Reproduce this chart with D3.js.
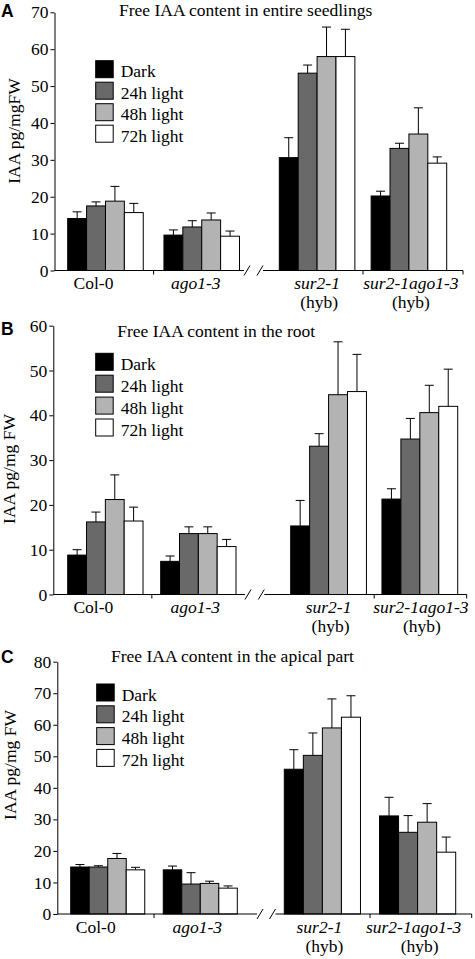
<!DOCTYPE html>
<html><head><meta charset="utf-8">
<script src="https://cdn.jsdelivr.net/npm/d3@7"></script>
<style>
body{margin:0;background:#fff}
svg{display:block}
text{font-family:"Liberation Serif","Times New Roman",serif;fill:#000}
</style>
</head><body>
<svg id="chart" width="475" height="959"></svg>
<script>
// ---------- data ----------
const groups = ["Col-0", "ago1-3", "sur2-1", "sur2-1ago1-3"];
const hybrid = [false, false, true, true];
const series = ["Dark", "24h light", "48h light", "72h light"];
const seriesColors = ["#000000", "#696969", "#b3b3b3", "#ffffff"];
const panelLetters = ["A", "B", "C"];
const titles = ["Free IAA content in entire seedlings", "Free IAA content in the root", "Free IAA content in the apical part"];
const yLabels = ["IAA pg/mgFW", "IAA pg/mg FW", "IAA pg/mg FW"];
const yMaxes = [70, 60, 80];
const yTickStep = 10;

// means: rows = groups, columns = series
const seedlingsMean = [[14.1, 17.5, 18.8, 15.7], [9.6, 11.8, 13.7, 9.3], [30.6, 53.5, 58.0, 58.0], [20.2, 33.1, 37.0, 29.1]];
const seedlingsErr  = [[1.8, 1.1, 4.0, 2.5], [1.4, 1.7, 1.9, 1.4], [5.4, 2.2, 8.0, 7.4], [1.3, 1.4, 7.1, 1.7]];
const rootMean = [[8.8, 16.2, 21.2, 16.4], [7.4, 13.6, 13.6, 10.7], [15.3, 33.1, 44.6, 45.3], [21.3, 34.7, 40.6, 42.0]];
const rootErr  = [[1.2, 2.2, 5.5, 3.1], [1.2, 1.5, 1.5, 1.6], [5.7, 2.8, 11.8, 8.3], [2.3, 4.6, 6.1, 8.3]];
const apicalMean = [[14.9, 14.9, 17.6, 14.0], [14.0, 9.5, 9.7, 8.2], [45.9, 50.3, 59.0, 62.4], [31.1, 25.9, 29.1, 19.6]];
const apicalErr  = [[0.8, 0.4, 1.6, 0.8], [1.2, 3.6, 0.7, 0.7], [6.2, 7.1, 9.2, 6.8], [5.9, 5.3, 5.9, 4.8]];

const panelMeans = [seedlingsMean, rootMean, apicalMean];
const panelErrs = [seedlingsErr, rootErr, apicalErr];

// ---------- layout ----------
const layouts = [
  {axisX: 54.5, yTop: 12.3, y0: 270.5, left: [67.7, 239.5], right: [279.3, 446.7], pi: [0.215, 0.177],
   brk: 244, brkGap: 13, rightEnd: 463, legX: 95.7, legY: 60.7, legStep: 21.5,
   titleX: 119, titleY: 15.5, letterY: 17.3, ylabX: 20, ylabY: 131, labShift: [-12, -6, 0, 2]},
  {axisX: 53.3, yTop: 325.7, y0: 594.5, left: [67.7, 236], right: [290.7, 457.7], pi: [0.19, 0.17],
   brk: 245, brkGap: 13.3, rightEnd: 466.7, legX: 95.7, legY: 353.3, legStep: 21.9,
   titleX: 117.3, titleY: 336.7, letterY: 335, ylabX: 14.5, ylabY: 469, labShift: [-12, -3, 0, 1]},
  {axisX: 57.3, yTop: 661.7, y0: 914, left: [70.7, 237.3], right: [284.3, 455.7], pi: [0.2, 0.2],
   brk: 257, brkGap: 12.5, rightEnd: 471.7, legX: 96.7, legY: 684, legStep: 21.8,
   titleX: 111, titleY: 662, letterY: 662.5, ylabX: 15.5, ylabY: 765, labShift: [-12, -3, -3, -4]}
];

const FS = 17.5;
const svg = d3.select("#chart");

layouts.forEach((L, p) => {
  const g = svg.append("g");
  const means = panelMeans[p], errs = panelErrs[p];

  const y = d3.scaleLinear().domain([0, yMaxes[p]]).range([L.y0, L.yTop]);

  // y axis
  const yAxis = d3.axisLeft(y)
    .tickValues(d3.range(0, yMaxes[p] + 1, yTickStep))
    .tickSize(4).tickSizeOuter(0).tickPadding(2)
    .tickFormat(d3.format("d"));
  const ya = g.append("g").attr("transform", `translate(${L.axisX},0)`).call(yAxis);
  ya.selectAll("text").style("font-family", '"Liberation Serif",serif').style("font-size", FS + "px").attr("fill", "#000");
  ya.selectAll("line,path").attr("stroke", "#000").attr("stroke-width", 1);

  // x scales (two segments around axis break)
  const xL = d3.scaleBand().domain(groups.slice(0, 2)).range(L.left).paddingInner(L.pi[0]).paddingOuter(0);
  const xR = d3.scaleBand().domain(groups.slice(2)).range(L.right).paddingInner(L.pi[1]).paddingOuter(0);
  const gx = (grp) => groups.indexOf(grp) < 2 ? xL(grp) : xR(grp);
  const bw = (grp) => groups.indexOf(grp) < 2 ? xL.bandwidth() : xR.bandwidth();

  // bars
  groups.forEach((grp, gi) => {
    const xs = d3.scaleBand().domain(series).range([gx(grp), gx(grp) + bw(grp)]);
    series.forEach((s, si) => {
      const v = means[gi][si], e = errs[gi][si];
      const cx = xs(s) + xs.bandwidth() / 2;
      // error bar (upper only)
      g.append("line").attr("x1", cx).attr("x2", cx).attr("y1", y(v)).attr("y2", y(v + e))
        .attr("stroke", "#000").attr("stroke-width", 1);
      g.append("line").attr("x1", cx - 4.5).attr("x2", cx + 4.5).attr("y1", y(v + e)).attr("y2", y(v + e))
        .attr("stroke", "#000").attr("stroke-width", 1);
      g.append("rect").attr("x", xs(s)).attr("y", y(v)).attr("width", xs.bandwidth()).attr("height", y(0) - y(v))
        .attr("fill", seriesColors[si]).attr("stroke", "#000").attr("stroke-width", 1);
    });
  });

  // x axis with break
  const ay = y(0);
  const line = (x1, y1, x2, y2) => g.append("line").attr("x1", x1).attr("y1", y1).attr("x2", x2).attr("y2", y2)
    .attr("stroke", "#000").attr("stroke-width", 1);
  line(L.axisX, ay, L.brk, ay);
  line(L.brk, ay + 5, L.brk + 6, ay - 5);
  line(L.brk + L.brkGap, ay + 5, L.brk + L.brkGap + 6, ay - 5);
  line(L.brk + L.brkGap + 6, ay, L.rightEnd, ay);
  // group boundary ticks
  const tL = (xL(groups[0]) + xL.bandwidth() + xL(groups[1])) / 2;
  const tR = (xR(groups[2]) + xR.bandwidth() + xR(groups[3])) / 2;
  [tL, tR, L.rightEnd].forEach(t => line(t, ay, t, ay + 4));

  // x labels
  groups.forEach((grp, gi) => {
    const cx = gx(grp) + bw(grp) / 2 + L.labShift[gi];
    g.append("text").attr("x", cx).attr("y", ay + 18.5).attr("text-anchor", "middle")
      .style("font-size", FS + "px").style("font-style", gi === 0 ? "normal" : "italic").text(grp);
    if (hybrid[gi]) {
      g.append("text").attr("x", gx(grp) + bw(grp) / 2 + 2).attr("y", ay + 37.5).attr("text-anchor", "middle")
        .style("font-size", FS + "px").text("(hyb)");
    }
  });

  // legend
  series.forEach((s, si) => {
    const ly = L.legY + si * L.legStep;
    g.append("rect").attr("x", L.legX).attr("y", ly).attr("width", 17.5).attr("height", 17)
      .attr("fill", seriesColors[si]).attr("stroke", "#000").attr("stroke-width", 1);
    g.append("text").attr("x", L.legX + 25).attr("y", ly + 16.5).style("font-size", FS + "px").text(s);
  });

  // title
  g.append("text").attr("x", L.titleX).attr("y", L.titleY).style("font-size", FS + "px").text(titles[p]);
  // panel letter
  g.append("text").attr("x", 1).attr("y", L.letterY)
    .style("font-family", '"Liberation Sans",Arial,sans-serif').style("font-weight", "bold").style("font-size", "17.5px")
    .text(panelLetters[p]);
  // y label
  g.append("text").attr("transform", `translate(${L.ylabX},${L.ylabY}) rotate(-90)`).attr("text-anchor", "middle")
    .style("font-size", FS + "px").text(yLabels[p]);
});
</script>
</body></html>
